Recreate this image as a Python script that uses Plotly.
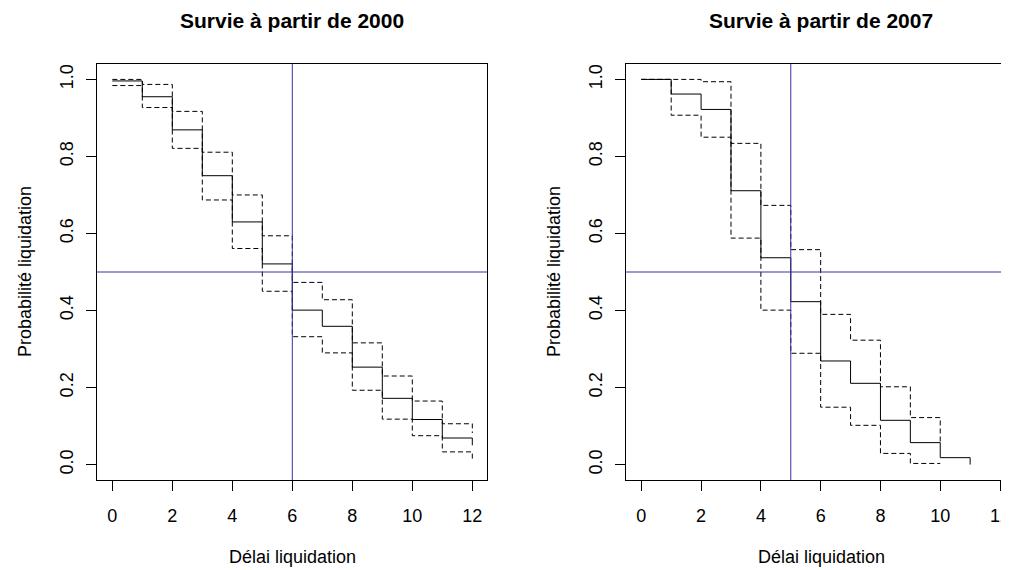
import plotly.graph_objects as go

# ---- data ----
times_2000 = [0, 1, 2, 3, 4, 5, 6, 7, 8, 9, 10, 11, 12]
surv_2000 = [0.996, 0.955, 0.869, 0.750, 0.630, 0.521, 0.401, 0.359, 0.253, 0.172, 0.117, 0.069, 0.050]
upper_2000 = [1.000, 0.987, 0.917, 0.811, 0.700, 0.594, 0.473, 0.428, 0.316, 0.230, 0.165, 0.106, 0.082]
lower_2000 = [0.984, 0.927, 0.821, 0.687, 0.561, 0.450, 0.332, 0.290, 0.193, 0.118, 0.075, 0.033, 0.010]

times_2007 = [0, 1, 2, 3, 4, 5, 6, 7, 8, 9, 10, 11]
surv_2007 = [1.000, 0.962, 0.922, 0.711, 0.537, 0.423, 0.269, 0.211, 0.115, 0.057, 0.018, 0.000]
times_up_2007 = [0, 1, 2, 3, 4, 5, 6, 7, 8, 9, 10]
upper_2007 = [1.000, 1.000, 0.994, 0.834, 0.673, 0.558, 0.390, 0.323, 0.202, 0.122, 0.060]
times_lo_2007 = [0, 1, 2, 3, 4, 5, 6, 7, 8, 9, 10]
lower_2007 = [1.000, 0.907, 0.850, 0.588, 0.401, 0.289, 0.149, 0.102, 0.029, 0.003, 0.003]

median_2000 = 6
median_2007 = 5
half_line = 0.5

x_ticks = [0, 2, 4, 6, 8, 10, 12]
y_ticks = [0.0, 0.2, 0.4, 0.6, 0.8, 1.0]
y_ticklabels = ["0.0", "0.2", "0.4", "0.6", "0.8", "1.0"]

titles = ["Survie à partir de 2000", "Survie à partir de 2007"]
xlabel = "Délai liquidation"
ylabel = "Probabilité liquidation"

# ---- layout geometry ----
OFF = 8  # page body margin
W, H = 1009 - OFF, 570 - OFF
FONT = "Liberation Sans, Arial, sans-serif"
blue = "#3434a0"

def px_x(p):
    return (p - OFF) / W

def px_y(p):
    return 1 - (p - OFF) / H

fig = go.Figure()

solid = dict(color="black", width=1)
dashed = dict(color="black", width=1, dash="5px,3px")

fig.add_trace(go.Scatter(x=times_2000, y=upper_2000, mode="lines", line=dashed, line_shape="hv",
                         xaxis="x", yaxis="y", showlegend=False, hoverinfo="skip"))
fig.add_trace(go.Scatter(x=times_2000, y=lower_2000, mode="lines", line=dashed, line_shape="hv",
                         xaxis="x", yaxis="y", showlegend=False, hoverinfo="skip"))
fig.add_trace(go.Scatter(x=times_2000, y=surv_2000, mode="lines", line=solid, line_shape="hv",
                         xaxis="x", yaxis="y", showlegend=False))

fig.add_trace(go.Scatter(x=times_up_2007, y=upper_2007, mode="lines", line=dashed, line_shape="hv",
                         xaxis="x2", yaxis="y2", showlegend=False, hoverinfo="skip"))
fig.add_trace(go.Scatter(x=times_lo_2007, y=lower_2007, mode="lines", line=dashed, line_shape="hv",
                         xaxis="x2", yaxis="y2", showlegend=False, hoverinfo="skip"))
fig.add_trace(go.Scatter(x=times_2007, y=surv_2007, mode="lines", line=solid, line_shape="hv",
                         xaxis="x2", yaxis="y2", showlegend=False))

tickfont = dict(family=FONT, size=18, color="black")

common_x = dict(showgrid=False, zeroline=False, showline=True, linecolor="black", linewidth=1,
                mirror=True, ticks="outside", ticklen=10, tickcolor="black", tickwidth=1,
                tickvals=x_ticks, ticktext=[str(v) for v in x_ticks], tickfont=tickfont,
                fixedrange=True, ticklabelstandoff=9, ticklabeloverflow="allow")
common_y = dict(showgrid=False, zeroline=False, showline=True, linecolor="black", linewidth=1,
                ticks="outside", ticklen=10, tickcolor="black", tickwidth=1,
                tickvals=y_ticks, ticktext=y_ticklabels, tickfont=tickfont, tickangle=-90,
                range=[-0.04, 1.04], fixedrange=True, ticklabelstandoff=6)

y_dom = [px_y(480), px_y(64)]

fig.update_layout(
    width=W, height=H,
    margin=dict(l=0, r=0, t=0, b=0),
    paper_bgcolor="white", plot_bgcolor="white",
    xaxis=dict(common_x, domain=[px_x(97), px_x(487)], range=[-0.51, 12.49], anchor="y"),
    yaxis=dict(common_y, domain=y_dom, anchor="x", mirror=True),
    xaxis2=dict(common_x, domain=[px_x(626), 1.0], range=[-0.512, 12.30], anchor="y2"),
    yaxis2=dict(common_y, domain=y_dom, anchor="x2", mirror=False),
)

# reference lines
for xa, ya, med in [("x", "y", median_2000), ("x2", "y2", median_2007)]:
    fig.add_shape(type="line", xref=xa, yref=ya + " domain", x0=med, x1=med, y0=0, y1=1,
                  line=dict(color=blue, width=1))
    fig.add_shape(type="line", xref=xa + " domain", yref=ya, x0=0, x1=1, y0=half_line, y1=half_line,
                  line=dict(color=blue, width=1))

# titles and axis labels
centers = [292, 821]
for cx, t in zip(centers, titles):
    fig.add_annotation(text="<b>" + t + "</b>", x=px_x(cx), y=1.0, xref="paper", yref="paper",
                       showarrow=False, xanchor="center", yanchor="top", borderpad=0,
                       font=dict(family=FONT, size=21, color="black"))
    fig.add_annotation(text=xlabel, x=px_x(cx), y=px_y(557), xref="paper", yref="paper",
                       showarrow=False, xanchor="center", yanchor="middle",
                       font=dict(family=FONT, size=18, color="black"))
for lx in [25, 554]:
    fig.add_annotation(text=ylabel, x=px_x(lx), y=px_y(272), xref="paper", yref="paper",
                       showarrow=False, xanchor="center", yanchor="middle", textangle=-90,
                       font=dict(family=FONT, size=18, color="black"))

fig.write_html("out.html")
